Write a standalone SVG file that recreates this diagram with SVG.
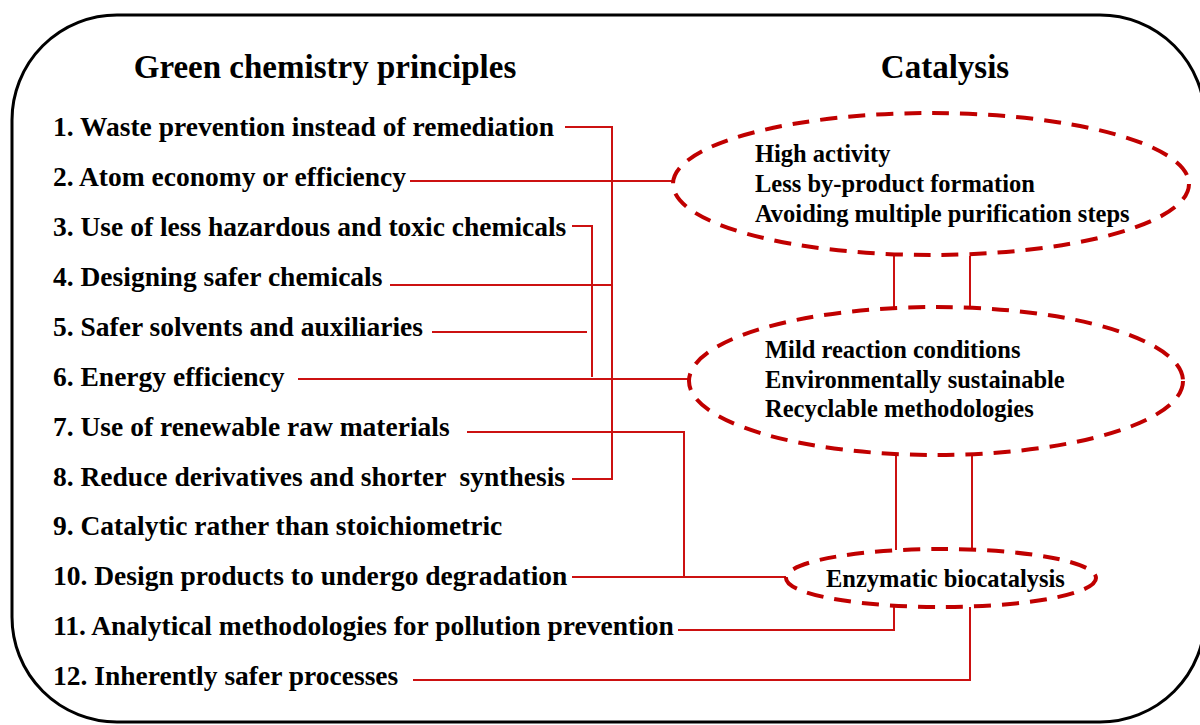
<svg xmlns="http://www.w3.org/2000/svg" width="1200" height="725" viewBox="0 0 1200 725">
<style>
.t{font-family:"Liberation Serif","Times New Roman",serif;font-weight:bold;fill:#000}
.h{font-size:33px}
.i{font-size:27.5px}
.e{font-size:24.5px}
.c{fill:none;stroke:#cc1111;stroke-width:2}
.el{fill:none;stroke:#c00000;stroke-width:4;stroke-dasharray:17 11}
</style>
<rect width="1200" height="725" fill="#fff"/>
<rect x="12" y="15" width="1193" height="707" rx="105" ry="105" fill="none" stroke="#000" stroke-width="3"/>
<g id="titles">
<text class="t h" x="325" y="78" text-anchor="middle">Green chemistry principles</text>
<text class="t h" x="945" y="78" text-anchor="middle">Catalysis</text>
</g>
<g id="principles">
<text class="t i" x="53" y="136">1. Waste prevention instead of remediation</text>
<text class="t i" x="53" y="186">2. Atom economy or efficiency</text>
<text class="t i" x="53" y="236">3. Use of less hazardous and toxic chemicals</text>
<text class="t i" x="53" y="286">4. Designing safer chemicals</text>
<text class="t i" x="53" y="336">5. Safer solvents and auxiliaries</text>
<text class="t i" x="53" y="386">6. Energy efficiency</text>
<text class="t i" x="53" y="436">7. Use of renewable raw materials</text>
<text class="t i" x="53" y="486" xml:space="preserve">8. Reduce derivatives and shorter  synthesis</text>
<text class="t i" x="53" y="535">9. Catalytic rather than stoichiometric</text>
<text class="t i" x="53" y="585">10. Design products to undergo degradation</text>
<text class="t i" x="53" y="635">11. Analytical methodologies for pollution prevention</text>
<text class="t i" x="53" y="685">12. Inherently safer processes</text>
</g>
<g id="connectors">
<polyline class="c" points="565,127 612,127 612,479 572,479"/>
<line class="c" x1="410" y1="181" x2="673" y2="181"/>
<polyline class="c" points="572,226 592,226 592,377"/>
<line class="c" x1="390" y1="285" x2="612" y2="285"/>
<line class="c" x1="432" y1="332" x2="587" y2="332"/>
<line class="c" x1="298" y1="379" x2="689" y2="379"/>
<polyline class="c" points="467,432 684,432 684,577"/>
<line class="c" x1="572" y1="577" x2="786" y2="577"/>
<polyline class="c" points="678,630 894,630 894,606"/>
<polyline class="c" points="413,680 970,680 970,607"/>
<line class="c" x1="894" y1="256" x2="894" y2="308"/>
<line class="c" x1="970" y1="256" x2="970" y2="307"/>
<line class="c" x1="896" y1="454" x2="896" y2="550"/>
<line class="c" x1="972" y1="454" x2="972" y2="549"/>
</g>
<g id="node-catalysis-1">
<ellipse class="el" cx="931" cy="184" rx="258" ry="71"/>
<text class="t e" x="755" y="162">High activity</text>
<text class="t e" x="755" y="192">Less by-product formation</text>
<text class="t e" x="755" y="222">Avoiding multiple purification steps</text>
</g>
<g id="node-catalysis-2">
<ellipse class="el" cx="936" cy="381" rx="247" ry="74"/>
<text class="t e" x="765" y="358">Mild reaction conditions</text>
<text class="t e" x="765" y="388">Environmentally sustainable</text>
<text class="t e" x="765" y="417">Recyclable methodologies</text>
</g>
<g id="node-enzymatic">
<ellipse class="el" cx="941" cy="578" rx="155" ry="29"/>
<text class="t e" x="826" y="587">Enzymatic biocatalysis</text>
</g>
</svg>
